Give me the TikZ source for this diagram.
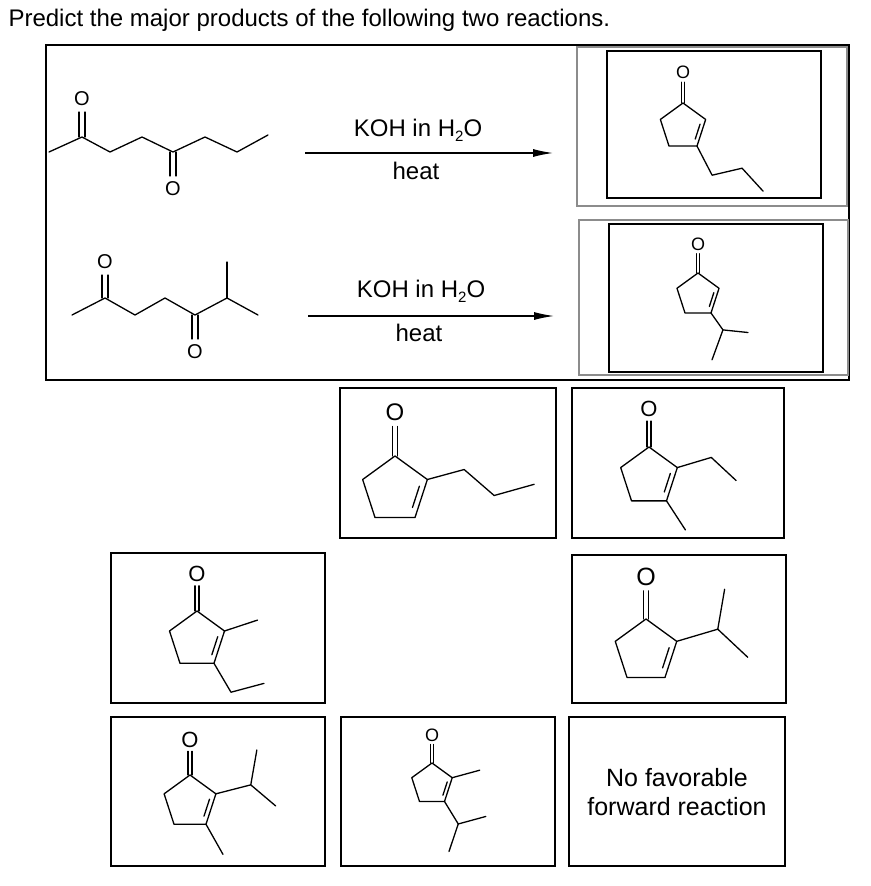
\documentclass[tikz,border=0pt]{standalone}
\usepackage{fontspec}
\setmainfont{Liberation Sans}
\usetikzlibrary{positioning, arrows.meta, calc}

% cyclopentenone: x, y, bond length, size of O, prefix, extra bonds
\newcommand{\penta}[6]{%
  \begin{scope}[shift={(#1,#2)}, scale=#3]
    \coordinate (#5c1) at (0,0);
    \coordinate (#5c2) at (0.809,0.588);
    \coordinate (#5c3) at (0.5,1.539);
    \coordinate (#5c4) at (-0.5,1.539);
    \coordinate (#5c5) at (-0.809,0.588);
    \coordinate (#5m) at (0,0.851);
    \draw[bond] (#5c1) -- (#5c2) -- (#5c3) -- (#5c4) -- (#5c5) -- cycle;
    \coordinate (#5i) at ($(#5c2)!0.2!(#5m)$);
    \coordinate (#5j) at ($(#5c3)!0.2!(#5m)$);
    \draw[bond] ($(#5i)!0.15!(#5j)$) -- ($(#5j)!0.15!(#5i)$);
    \draw[bond] (-0.06,0) -- (-0.06,-0.74);
    \draw[bond] (0.06,0) -- (0.06,-0.74);
    \node[atom, font=\fontsize{#4}{#4}\selectfont] (#5o) at (0,-1.1) {O};
    #6
  \end{scope}}
\newcommand{\water}{H\raisebox{-0.4ex}{\fontsize{15}{15}\selectfont 2}O}

\begin{document}
\begin{tikzpicture}[
    x=1pt, y=-1pt,
    bond/.style={line width=1.3pt, line join=round, line cap=round},
    atom/.style={inner sep=0pt},
    ansbox/.style={draw, line width=2.6pt},
    graybox/.style={draw=black!45, line width=2pt},
    rxn/.style={line width=1.2pt, -{Latex[length=20pt, width=8pt]}},
    cond/.style={font=\fontsize{24}{26}\selectfont}
  ]
  \useasboundingbox (0,0) rectangle (870,886);

  % question
  \node[anchor=west, font=\fontsize{24}{26}\selectfont] (title) at (5,20)
    {Predict the major products of the following two reactions.};

  % frame round the two reactions
  \draw[line width=2.6pt] (46,45) rectangle (849,380);
  \draw[graybox] (577,47) rectangle (847,206);
  \draw[graybox] (579,220) rectangle (848,375);
  \draw[ansbox] (607,51) rectangle (821,198);
  \draw[ansbox] (609,224) rectangle (823,372);

  % first diketone
  \draw[bond] (49,152) -- (82,137) -- (110,152) -- (142,137) -- (173,152)
    -- (205,137) -- (237,152) -- (268,135);
  \draw[bond] (79,137) -- (79,112); \draw[bond] (85,137) -- (85,112);
  \draw[bond] (170,152) -- (170,176); \draw[bond] (176,152) -- (176,176);
  \node[atom, font=\fontsize{20}{20}\selectfont] (o1) at (82,99) {O};
  \node[atom, font=\fontsize{20}{20}\selectfont] (o2) at (173,189) {O};

  % second diketone
  \draw[bond] (72,315) -- (105,298) -- (135,315) -- (165,298) -- (195,315)
    -- (227,298) -- (258,315);
  \draw[bond] (227,298) -- (227,262);
  \draw[bond] (102,298) -- (102,275); \draw[bond] (108,298) -- (108,275);
  \draw[bond] (192,315) -- (192,339); \draw[bond] (198,315) -- (198,339);
  \node[atom, font=\fontsize{20}{20}\selectfont] (o3) at (105,262) {O};
  \node[atom, font=\fontsize{20}{20}\selectfont] (o4) at (195,352) {O};

  % arrows
  \coordinate (a1s) at (305,153); \coordinate (a1e) at (553,153);
  \coordinate (a2s) at (308,316); \coordinate (a2e) at (554,316);
  \draw[rxn] (a1s) -- (a1e);
  \draw[rxn] (a2s) -- (a2e);
  \node[cond] (koh1) at (418,130) {KOH in \water};
  \node[cond] (heat1) at (416,171) {heat};
  \node[cond] (koh2) at (421,291) {KOH in \water};
  \node[cond] (heat2) at (419,333) {heat};

  % products in the frame
  \penta{683}{103}{28}{18}{pa}{\draw[bond] (pac3) -- ++(0.54,1.04) -- ++(1.07,-0.25) -- ++(0.75,0.82);}
  \penta{698}{273}{26}{18}{pb}{\draw[bond] (pbc3) -- ++(0.46,0.65) coordinate (pbh) -- ++(0.96,0.1);
    \draw[bond] (pbh) -- ++(-0.42,1.15);}

  % answer boxes
  \draw[ansbox] (340,388) rectangle (556,538);
  \draw[ansbox] (572,388) rectangle (784,538);
  \draw[ansbox] (111,553) rectangle (325,703);
  \draw[ansbox] (572,555) rectangle (786,703);
  \draw[ansbox] (111,717) rectangle (325,866);
  \draw[ansbox] (341,717) rectangle (555,866);
  \draw[ansbox] (569,717) rectangle (785,866);

  \penta{395}{456}{40}{24}{ba}{\draw[bond] (bac2) -- ++(0.92,-0.25) -- ++(0.75,0.65) -- ++(1,-0.28);}
  \penta{649}{447}{35}{22}{bb}{\draw[bond] (bbc2) -- ++(0.97,-0.29) -- ++(0.71,0.66);
    \draw[bond] (bbc3) -- ++(0.54,0.83);}
  \penta{197}{611}{34}{22}{bc}{\draw[bond] (bcc2) -- ++(0.97,-0.32);
    \draw[bond] (bcc3) -- ++(0.5,0.85) -- ++(0.97,-0.26);}
  \penta{646}{619}{38}{25}{bd}{\draw[bond] (bdc2) -- ++(1.08,-0.32) coordinate (bdh) -- ++(0.18,-1.05);
    \draw[bond] (bdh) -- ++(0.79,0.74);}
  \penta{190}{775}{32}{22}{be}{\draw[bond] (bec2) -- ++(1.09,-0.28) coordinate (beh) -- ++(0.19,-1.09);
    \draw[bond] (beh) -- ++(0.78,0.66);
    \draw[bond] (bec3) -- ++(0.53,0.94);}
  \penta{432}{763}{25}{18}{bf}{\draw[bond] (bfc2) -- ++(1.1,-0.3);
    \draw[bond] (bfc3) -- ++(0.55,0.9) coordinate (bfh) -- ++(1.1,-0.3);
    \draw[bond] (bfh) -- ++(-0.37,1.1);}

  \node[align=center, font=\fontsize{25}{29}\selectfont] (none) at (677,792)
    {No favorable\\forward reaction};
\end{tikzpicture}
\end{document}
